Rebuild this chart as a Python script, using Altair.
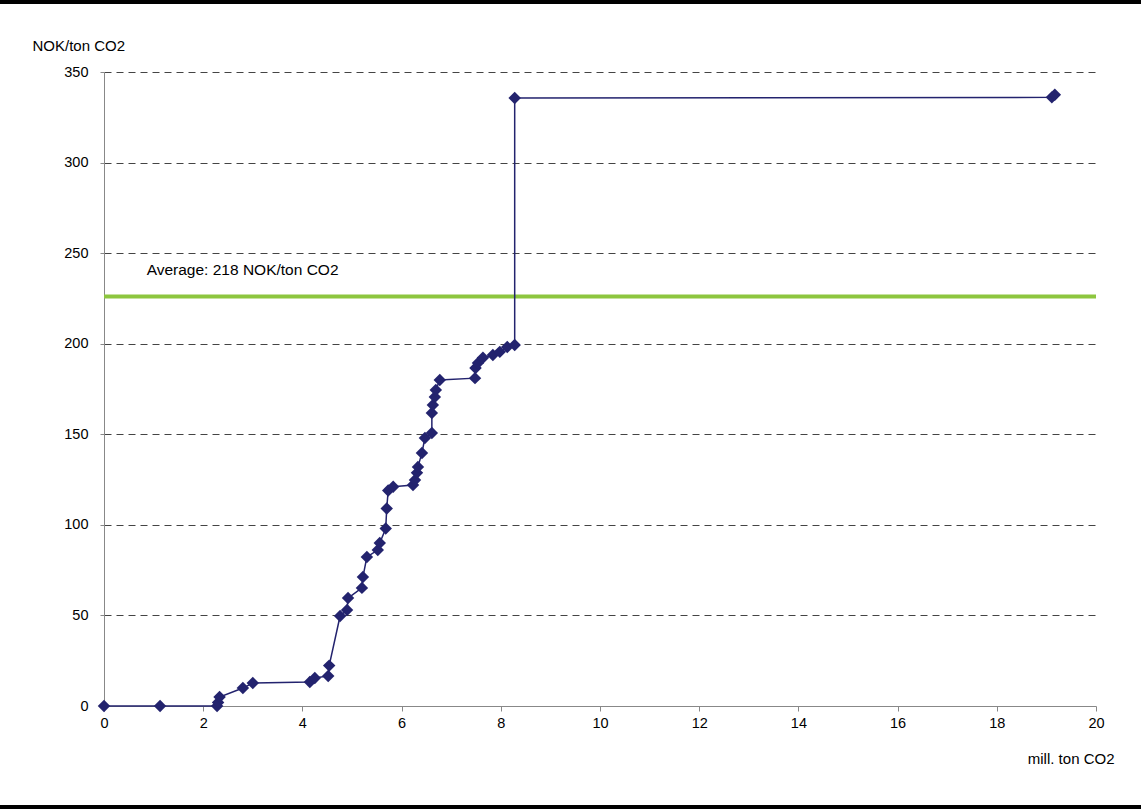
import altair as alt
import pandas as pd

# Cumulative abatement (mill. ton CO2) and marginal cost (NOK/ton CO2)
x_vals = [0, 1.13, 2.28, 2.30, 2.33, 2.80, 3.00, 4.15, 4.25, 4.52, 4.54,
          4.76, 4.90, 4.92, 5.20, 5.22, 5.30, 5.52, 5.56, 5.68, 5.70, 5.73,
          5.83, 6.23, 6.27, 6.31, 6.33, 6.41, 6.47, 6.61, 6.61, 6.63, 6.67,
          6.69, 6.77, 7.48, 7.49, 7.54, 7.64, 7.84, 7.98, 8.13, 8.28, 8.28,
          19.11, 19.17]
y_vals = [0, 0, 0, 2, 5, 9.9, 12.7, 13.3, 15.5, 16.6, 22.3,
          49.7, 53, 59.6, 65.2, 71.2, 82.3, 86.1, 90, 98, 109, 119,
          121, 122, 124.8, 128.7, 132, 139.7, 148, 150.7, 161.8, 166.2, 170.6,
          174.5, 180, 181, 186.6, 189.4, 192.2, 193.8, 195.5, 198.2, 199.3, 335.7,
          336, 337.4]

avg_value = [226]
avg_label = ["Average: 218 NOK/ton CO2"]
x_ticks = list(range(0, 21, 2))
y_ticks = list(range(0, 351, 50))

df = pd.DataFrame({"x": x_vals, "y": y_vals, "i": list(range(len(x_vals)))})
avg_df = pd.DataFrame({"y": avg_value, "label": avg_label, "lx": [0.86], "ly": [240.5]})

FONT = "Liberation Sans"
NAVY = "#23236e"
FS = 14.5

xs = alt.Scale(domain=[0, 20], nice=False)
ys = alt.Scale(domain=[0, 350], nice=False)

x_axis = alt.Axis(values=x_ticks, title="mill. ton CO2", titleX=1010, titleY=52,
                  titleAlign="right", titleBaseline="middle", titleFont=FONT,
                  titleFontSize=15, titleFontWeight="normal", titleColor="black",
                  grid=False, tickSize=5, tickColor="#888", domainColor="#888",
                  labelFont=FONT, labelFontSize=FS, labelColor="black", labelPadding=5,
                  labelFlush=False)
y_axis = alt.Axis(values=y_ticks, title="NOK/ton CO2", titleAngle=0, titleX=-72,
                  titleY=-27, titleAlign="left", titleBaseline="middle", titleFont=FONT,
                  titleFontSize=15, titleFontWeight="normal", titleColor="black",
                  grid=True, gridDash=[7, 5], gridColor="#444", gridWidth=1,
                  tickSize=4, tickColor="#888", domainColor="#888",
                  labelFont=FONT, labelFontSize=FS, labelColor="black", labelPadding=12,
                  labelFlush=False)

base = alt.Chart(df)

curve = base.mark_line(color=NAVY, strokeWidth=1.5).encode(
    x=alt.X("x:Q", scale=xs, axis=x_axis),
    y=alt.Y("y:Q", scale=ys, axis=y_axis),
    order=alt.Order("i:Q"),
)
pts = base.mark_point(shape="diamond", filled=True, color=NAVY, size=155, opacity=1).encode(
    x=alt.X("x:Q", scale=xs),
    y=alt.Y("y:Q", scale=ys),
)

avg_rule = alt.Chart(avg_df).mark_rule(color="#8dc63f", strokeWidth=4).encode(
    y=alt.Y("y:Q", scale=ys)
)
avg_text = alt.Chart(avg_df).mark_text(align="left", baseline="middle", font=FONT,
                                       fontSize=15.5, color="black").encode(
    x=alt.X("lx:Q", scale=xs), y=alt.Y("ly:Q", scale=ys), text="label:N"
)

top_bar = alt.Chart(avg_df).mark_rule(color="black", strokeWidth=4, clip=False).encode(
    x=alt.value(-104), x2=alt.value(1037), y=alt.value(-70)
)
bottom_bar = alt.Chart(avg_df).mark_rule(color="black", strokeWidth=4, clip=False).encode(
    x=alt.value(-104), x2=alt.value(1037), y=alt.value(735)
)

chart = alt.layer(avg_rule, curve, pts, avg_text, top_bar, bottom_bar).properties(
    width=992, height=634,
    autosize=alt.AutoSizeParams(type="none"),
    padding={"left": 104, "top": 72, "right": 45, "bottom": 103},
    background="white",
).configure_view(stroke=None)

chart.save("out.html", embed_options={"renderer": "svg", "actions": False})
